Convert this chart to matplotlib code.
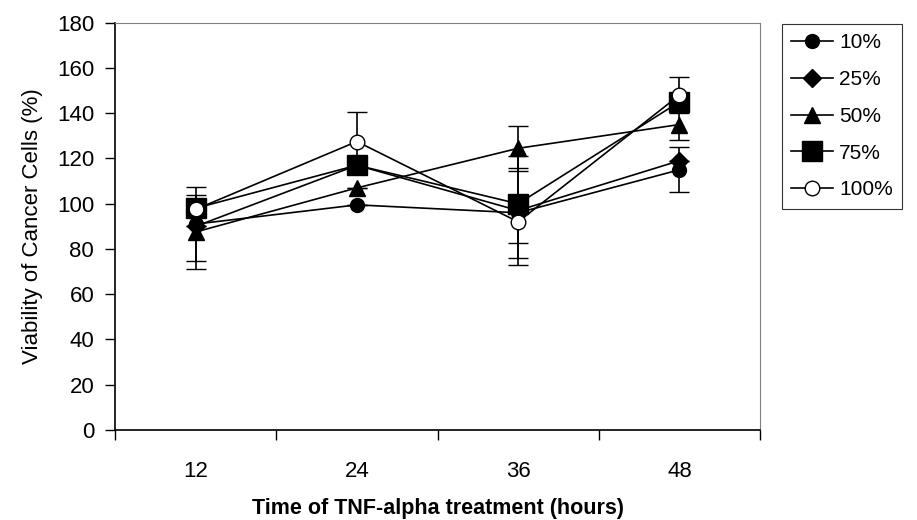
import matplotlib.pyplot as plt
import numpy as np

plt.rcParams["font.family"] = ["Liberation Sans", "DejaVu Sans"]

hours = ["12", "24", "36", "48"]
series = ["10%", "25%", "50%", "75%", "100%"]

v10 = [91, 99.5, 96, 115]
v25 = [90, 117, 97, 119]
v50 = [87.5, 107, 124.5, 135]
v75 = [98, 117, 100, 145]
v100 = [97.5, 127.5, 92, 148]

e10 = [16.5, 0, 20, 10]
e25 = [0, 0, 24, 0]
e50 = [16.5, 0, 10, 7]
e75 = [0, 0, 0, 0]
e100 = [0, 13, 9.5, 8]

values = [v10, v25, v50, v75, v100]
errors = [e10, e25, e50, e75, e100]
markers = ["o", "D", "^", "s", "o"]
msizes = [10, 9, 11.5, 14.5, 10.5]
faces = ["black", "black", "black", "black", "white"]

fig = plt.figure(figsize=(9.17, 5.2), dpi=100)
ax = fig.add_axes([0.1254, 0.1731, 0.7034, 0.7832])

x = np.arange(1, len(hours) + 1)
handles = []
for vals, errs, m, ms, fc, lab in zip(values, errors, markers, msizes, faces, series):
    c = ax.errorbar(x, vals, yerr=errs, color="black", lw=1.2, marker=m,
                    ms=ms, mfc=fc, mec="black", mew=1.0, capsize=7,
                    capthick=1.2, elinewidth=1.2, label=lab)
    handles.append(c[0])

ax.set_xlim(0.5, 4.5)
ax.set_ylim(0, 180)
ax.set_yticks(np.arange(0, 181, 20))
ax.set_xticks(x)
ax.set_xticklabels(hours)
# ticks sit between the categories, like in Excel
ax.set_xticks(np.arange(0.5, 4.6, 1), minor=True)
ax.tick_params(axis="x", which="major", length=0, pad=22, labelsize=16)
ax.tick_params(axis="x", which="minor", length=7, width=1, direction="out")
ax.tick_params(axis="y", length=7, width=1, direction="out", pad=8, labelsize=16)

for s in ["top", "right"]:
    ax.spines[s].set_color("#808080")
    ax.spines[s].set_linewidth(0.8)
for s in ["left", "bottom"]:
    ax.spines[s].set_linewidth(1.2)

ax.set_ylabel("Viability of Cancer Cells (%)", fontsize=16, labelpad=10)
ax.set_xlabel("Time of TNF-alpha treatment (hours)", fontsize=15.5,
              fontweight="bold", labelpad=12)

leg = fig.legend(handles, series, loc="upper left",
                 bbox_to_anchor=(782 / 917, 1 - 24 / 520),
                 borderaxespad=0, fontsize=15, frameon=True, fancybox=False,
                 handlelength=2.0, labelspacing=0.85, handletextpad=0.3,
                 borderpad=0.45)
leg.get_frame().set_edgecolor("black")
leg.get_frame().set_linewidth(0.8)

fig.savefig("out.png", dpi=100)
